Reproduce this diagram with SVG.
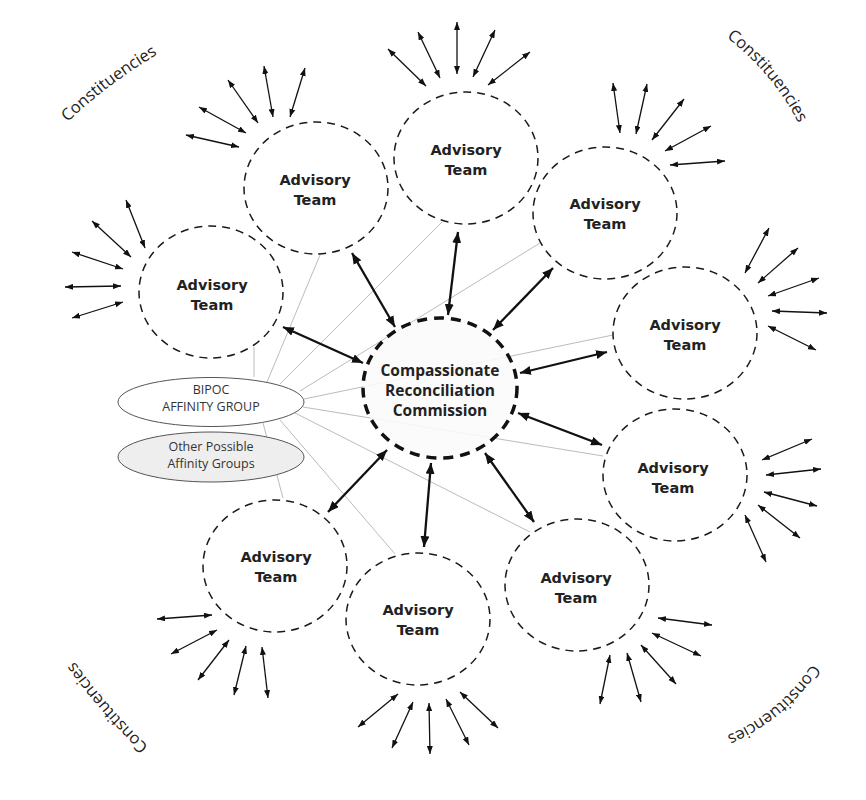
<svg xmlns="http://www.w3.org/2000/svg" width="866" height="800" viewBox="0 0 866 800">
<style>
.team{fill:none;stroke:#1a1a1a;stroke-width:1.5;stroke-dasharray:8 6}
.center{fill:#fbfbfb;fill-opacity:0.88;stroke:#111;stroke-width:3.5;stroke-dasharray:10 7}
.lbl{font-family:"DejaVu Sans",Verdana,sans-serif;font-weight:bold;font-size:14.5px;fill:#222;text-anchor:middle}
.clbl{font-family:"Open Sans","Noto Sans",sans-serif;font-weight:bold;font-size:15.5px;fill:#222;text-anchor:middle}
.elbl{font-family:"Open Sans","Noto Sans",sans-serif;font-size:12.5px;fill:#333;text-anchor:middle}
.cons{font-family:"Open Sans","Noto Sans",sans-serif;font-size:16.5px;fill:#222}
.thin line{stroke:#111;stroke-width:1.3;marker-start:url(#ah);marker-end:url(#ah)}
.thick line{stroke:#111;stroke-width:2.3;marker-start:url(#AH);marker-end:url(#AH)}
.gray line{stroke:#aaa;stroke-width:0.8}
.ell{stroke:#555;stroke-width:1}
</style>
<defs>
<marker id="ah" viewBox="0 0 8 6" refX="8" refY="3" markerWidth="8" markerHeight="6" markerUnits="userSpaceOnUse" orient="auto-start-reverse"><path d="M0,0 L8,3 L0,6 z" fill="#111"/></marker>
<marker id="AH" viewBox="0 0 11 9" refX="11" refY="4.5" markerWidth="11" markerHeight="9" markerUnits="userSpaceOnUse" orient="auto-start-reverse"><path d="M0,0 L11,4.5 L0,9 z" fill="#111"/></marker>
<path id="arcTL" d="M1.9,198.2 A500,500 0 0 1 248.7,12.2"/>
<path id="arcTR" d="M656.9,-0.9 A260,260 0 0 1 824.1,198.2"/>
<path id="arcBR" d="M836.1,609.9 A190,190 0 0 1 669.2,750"/>
<path id="arcBL" d="M184.7,778.4 A600,600 0 0 1 48,621.1"/>
</defs>
<rect width="866" height="800" fill="#fff"/>

<g id="connectors">
<g class="gray">
<line x1="254" y1="347" x2="254" y2="377"/>
<line x1="320" y1="255" x2="267" y2="382"/>
<line x1="442" y1="222" x2="280" y2="384"/>
<line x1="540" y1="243" x2="300" y2="391"/>
<line x1="613" y1="335" x2="304" y2="399"/>
<line x1="603" y1="456" x2="303" y2="407"/>
<line x1="530" y1="532" x2="295" y2="413"/>
<line x1="395" y1="554" x2="280" y2="420"/>
<line x1="283" y1="498" x2="263" y2="423"/>
</g>
</g>

<g id="commission">
<ellipse class="center" cx="440" cy="388" rx="77" ry="70"/>
<text class="clbl" x="440" y="376">Compassionate</text>
<text class="clbl" x="440" y="396">Reconciliation</text>
<text class="clbl" x="440" y="416">Commission</text>
</g>

<g id="bipoc">
<ellipse class="ell" cx="211" cy="402" rx="93" ry="24.5" fill="#fff"/>
<text class="elbl" x="211" y="394">BIPOC</text>
<text class="elbl" x="211" y="411">AFFINITY GROUP</text>
</g>
<g id="other-affinity">
<ellipse class="ell" cx="211" cy="457" rx="93" ry="25" fill="#eeeeee"/>
<text class="elbl" x="211" y="451">Other Possible</text>
<text class="elbl" x="211" y="468">Affinity Groups</text>
</g>

<g id="team-top-left"><ellipse class="team" cx="316" cy="188" rx="72" ry="66"/><text class="lbl" x="315" y="185">Advisory</text><text class="lbl" x="315" y="205">Team</text></g>
<g id="team-left"><ellipse class="team" cx="211" cy="292" rx="72" ry="66"/><text class="lbl" x="212" y="290">Advisory</text><text class="lbl" x="212" y="310">Team</text></g>
<g id="team-top"><ellipse class="team" cx="466" cy="158" rx="72" ry="66"/><text class="lbl" x="466" y="155">Advisory</text><text class="lbl" x="466" y="175">Team</text></g>
<g id="team-top-right"><ellipse class="team" cx="605" cy="213" rx="72" ry="66"/><text class="lbl" x="605" y="209">Advisory</text><text class="lbl" x="605" y="229">Team</text></g>
<g id="team-right"><ellipse class="team" cx="685" cy="333" rx="72" ry="66"/><text class="lbl" x="685" y="330">Advisory</text><text class="lbl" x="685" y="350">Team</text></g>
<g id="team-lower-right"><ellipse class="team" cx="675" cy="475" rx="72" ry="66"/><text class="lbl" x="673" y="473">Advisory</text><text class="lbl" x="673" y="493">Team</text></g>
<g id="team-bottom-right"><ellipse class="team" cx="577" cy="585" rx="72" ry="66"/><text class="lbl" x="576" y="583">Advisory</text><text class="lbl" x="576" y="603">Team</text></g>
<g id="team-bottom"><ellipse class="team" cx="418" cy="619" rx="72" ry="66"/><text class="lbl" x="418" y="615">Advisory</text><text class="lbl" x="418" y="635">Team</text></g>
<g id="team-bottom-left"><ellipse class="team" cx="275" cy="566" rx="72" ry="66"/><text class="lbl" x="276" y="562">Advisory</text><text class="lbl" x="276" y="582">Team</text></g>

<g id="arrows">
<g class="thick">
<line x1="283" y1="327" x2="363" y2="363"/>
<line x1="352" y1="253" x2="395" y2="327"/>
<line x1="458" y1="232" x2="448" y2="315"/>
<line x1="553" y1="268" x2="493" y2="330"/>
<line x1="607" y1="352" x2="520" y2="373"/>
<line x1="518" y1="413" x2="602" y2="445"/>
<line x1="485" y1="453" x2="534" y2="522"/>
<line x1="431" y1="463" x2="424" y2="547"/>
<line x1="387" y1="450" x2="328" y2="512"/>
</g>
<g class="thin">
<line x1="186" y1="135" x2="239" y2="147"/>
<line x1="199" y1="107" x2="246" y2="133"/>
<line x1="228" y1="80" x2="258" y2="123"/>
<line x1="264" y1="66" x2="273" y2="117"/>
<line x1="305" y1="68" x2="290" y2="117"/>

<line x1="126" y1="200" x2="145" y2="248"/>
<line x1="92" y1="221" x2="131" y2="257"/>
<line x1="72" y1="252" x2="123" y2="269"/>
<line x1="65" y1="287" x2="121" y2="286"/>
<line x1="72" y1="318" x2="123" y2="302"/>

<line x1="388" y1="49" x2="426" y2="86"/>
<line x1="418" y1="32" x2="440" y2="78"/>
<line x1="457" y1="22" x2="457" y2="74"/>
<line x1="495" y1="30" x2="473" y2="77"/>
<line x1="530" y1="52" x2="488" y2="85"/>

<line x1="613" y1="83" x2="620" y2="133"/>
<line x1="647" y1="84" x2="636" y2="134"/>
<line x1="684" y1="99" x2="652" y2="140"/>
<line x1="711" y1="126" x2="665" y2="151"/>
<line x1="725" y1="161" x2="670" y2="165"/>

<line x1="769" y1="228" x2="745" y2="273"/>
<line x1="798" y1="248" x2="758" y2="283"/>
<line x1="819" y1="278" x2="768" y2="296"/>
<line x1="827" y1="313" x2="772" y2="311"/>
<line x1="816" y1="350" x2="768" y2="326"/>

<line x1="812" y1="439" x2="762" y2="460"/>
<line x1="821" y1="469" x2="766" y2="475"/>
<line x1="817" y1="506" x2="764" y2="492"/>
<line x1="800" y1="538" x2="758" y2="505"/>
<line x1="766" y1="562" x2="745" y2="515"/>

<line x1="712" y1="625" x2="658" y2="618"/>
<line x1="701" y1="656" x2="652" y2="633"/>
<line x1="676" y1="684" x2="641" y2="645"/>
<line x1="641" y1="702" x2="627" y2="653"/>
<line x1="600" y1="704" x2="610" y2="655"/>

<line x1="358" y1="727" x2="398" y2="694"/>
<line x1="392" y1="748" x2="413" y2="702"/>
<line x1="430" y1="754" x2="429" y2="703"/>
<line x1="469" y1="745" x2="446" y2="699"/>
<line x1="498" y1="728" x2="460" y2="692"/>

<line x1="157" y1="619" x2="212" y2="615"/>
<line x1="171" y1="654" x2="217" y2="630"/>
<line x1="198" y1="680" x2="229" y2="640"/>
<line x1="234" y1="695" x2="246" y2="646"/>
<line x1="268" y1="698" x2="262" y2="647"/>
</g>
</g>

<g id="constituencies">
<text class="cons"><textPath href="#arcTL" startOffset="50%" text-anchor="middle">Constituencies</textPath></text>
<text class="cons"><textPath href="#arcTR" startOffset="50%" text-anchor="middle">Constituencies</textPath></text>
<text class="cons"><textPath href="#arcBR" startOffset="50%" text-anchor="middle">Constituencies</textPath></text>
<text class="cons"><textPath href="#arcBL" startOffset="50%" text-anchor="middle">Constituencies</textPath></text>
</g>
</svg>
